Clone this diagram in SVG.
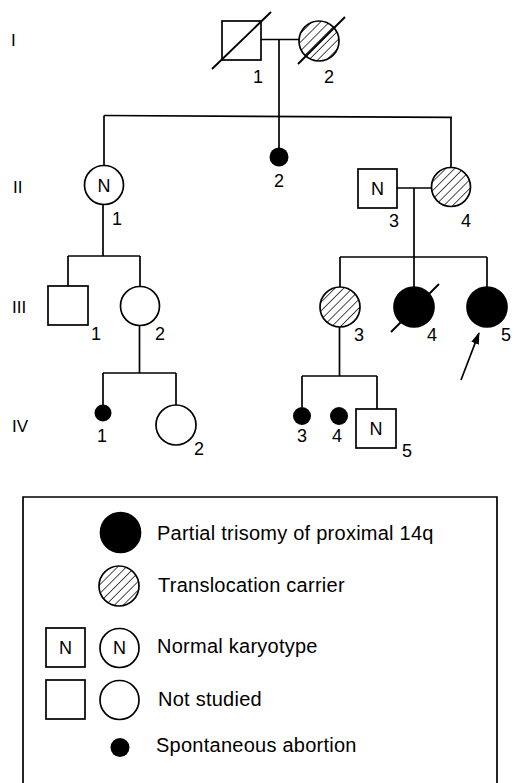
<svg xmlns="http://www.w3.org/2000/svg" width="520" height="783" viewBox="0 0 520 783">
<defs>
<pattern id="hatch" patternUnits="userSpaceOnUse" width="6.2" height="6.2" patternTransform="rotate(45)">
<rect width="6.2" height="6.2" fill="#fff"/>
<line x1="0" y1="0" x2="0" y2="6.2" stroke="#000" stroke-width="1.4"/>
</pattern>
<marker id="arrow" viewBox="0 0 12 8" refX="11" refY="4" markerWidth="12" markerHeight="8" markerUnits="userSpaceOnUse" orient="auto">
<path d="M0,0 L12,4 L0,8 Z" fill="#000"/>
</marker>
</defs>
<style>
.ln{stroke:#000;stroke-width:1.7;fill:none}
.sym{stroke:#000;stroke-width:1.7;fill:#fff}
.aff{stroke:#000;stroke-width:1.7;fill:#000}
.car{stroke:#000;stroke-width:1.7;fill:url(#hatch)}
.ab{fill:#000;stroke:none}
.sl{stroke:#000;stroke-width:1.9}
text{font-family:"Liberation Sans",Arial,sans-serif;fill:#000}
.num{font-size:18px;text-anchor:middle}
.gen{font-size:17px}
.n{font-size:18px;text-anchor:middle}
.lg{font-size:20px;letter-spacing:0.25px}
</style>
<rect width="520" height="783" fill="#fff"/>

<g id="generations">
<text class="gen" x="11" y="46">I</text>
<text class="gen" x="13" y="193">II</text>
<text class="gen" x="12" y="313">III</text>
<text class="gen" x="12" y="432">IV</text>
</g>

<g id="connectors">
<line class="ln" x1="261" y1="39.5" x2="299" y2="39.5"/>
<line class="ln" x1="279" y1="39.5" x2="279" y2="116.5"/>
<line class="ln" x1="104" y1="115.5" x2="452" y2="117.3"/>
<line class="ln" x1="104" y1="115.5" x2="104" y2="165.5"/>
<line class="ln" x1="279" y1="116.5" x2="279" y2="149"/>
<line class="ln" x1="451" y1="117.3" x2="451" y2="167.5"/>
<line class="ln" x1="397" y1="188" x2="431.5" y2="188"/>
<line class="ln" x1="414" y1="188" x2="414" y2="257"/>
<line class="ln" x1="103" y1="204.5" x2="103" y2="256"/>
<line class="ln" x1="68" y1="256" x2="140" y2="256"/>
<line class="ln" x1="68" y1="256" x2="68" y2="286"/>
<line class="ln" x1="140" y1="256" x2="140" y2="286.5"/>
<line class="ln" x1="139.5" y1="325.5" x2="139.5" y2="373"/>
<line class="ln" x1="103" y1="373" x2="176" y2="373"/>
<line class="ln" x1="103" y1="373" x2="103" y2="405"/>
<line class="ln" x1="176" y1="373" x2="176" y2="405"/>
<line class="ln" x1="340" y1="257" x2="487" y2="257"/>
<line class="ln" x1="340" y1="257" x2="340" y2="287"/>
<line class="ln" x1="414" y1="257" x2="414" y2="287"/>
<line class="ln" x1="487" y1="257" x2="487" y2="287"/>
<line class="ln" x1="339.5" y1="327" x2="339.5" y2="376"/>
<line class="ln" x1="302" y1="376" x2="377" y2="376"/>
<line class="ln" x1="302" y1="376" x2="302" y2="407"/>
<line class="ln" x1="377" y1="376" x2="377" y2="409"/>
<line class="ln" x1="461" y1="380" x2="479" y2="333" marker-end="url(#arrow)"/>
</g>

<g id="I-1">
<rect class="sym" x="222" y="21" width="39" height="39"/>
<line class="sl" x1="212" y1="69" x2="271" y2="12"/>
<text class="num" x="258" y="83">1</text>
</g>
<g id="I-2">
<circle class="car" cx="319" cy="41" r="20"/>
<line class="sl" x1="298" y1="64" x2="345" y2="17"/>
<text class="num" x="329" y="83">2</text>
</g>

<g id="II-1">
<circle class="sym" cx="104" cy="185" r="19.5"/>
<text class="n" x="104" y="191.5">N</text>
<text class="num" x="117" y="225">1</text>
</g>
<g id="II-2">
<circle class="ab" cx="279" cy="157" r="9.5"/>
<text class="num" x="279" y="187">2</text>
</g>
<g id="II-3">
<rect class="sym" x="358" y="169" width="39" height="39"/>
<text class="n" x="377.5" y="195">N</text>
<text class="num" x="394" y="227">3</text>
</g>
<g id="II-4">
<circle class="car" cx="451" cy="187" r="19.5"/>
<text class="num" x="466" y="227">4</text>
</g>

<g id="III-1">
<rect class="sym" x="48" y="286" width="40" height="39"/>
<text class="num" x="96" y="340">1</text>
</g>
<g id="III-2">
<circle class="sym" cx="140" cy="306" r="19.5"/>
<text class="num" x="160" y="340">2</text>
</g>
<g id="III-3">
<circle class="car" cx="340" cy="307" r="20"/>
<text class="num" x="359" y="341">3</text>
</g>
<g id="III-4">
<line class="sl" x1="391" y1="332" x2="439" y2="284"/>
<circle class="aff" cx="414" cy="307" r="20"/>
<text class="num" x="432" y="341">4</text>
</g>
<g id="III-5">
<circle class="aff" cx="487" cy="307" r="20"/>
<text class="num" x="506" y="341">5</text>
</g>

<g id="IV-1">
<circle class="ab" cx="103" cy="413" r="8.5"/>
<text class="num" x="102" y="442">1</text>
</g>
<g id="IV-2">
<circle class="sym" cx="176" cy="425" r="20"/>
<text class="num" x="199" y="455">2</text>
</g>
<g id="IV-3">
<circle class="ab" cx="302" cy="416" r="9"/>
<text class="num" x="302" y="442">3</text>
</g>
<g id="IV-4">
<circle class="ab" cx="339" cy="416" r="9"/>
<text class="num" x="337" y="442">4</text>
</g>
<g id="IV-5">
<rect class="sym" x="356" y="409" width="40" height="39"/>
<text class="n" x="376" y="435">N</text>
<text class="num" x="407" y="457">5</text>
</g>

<g id="legend">
<path class="ln" d="M23,790 V497 H497 V790"/>
<circle class="aff" cx="120.5" cy="532.5" r="20"/>
<text class="lg" x="157" y="540">Partial trisomy of proximal 14q</text>
<circle class="car" cx="119" cy="586" r="20"/>
<text class="lg" x="158" y="592">Translocation carrier</text>
<rect class="sym" x="46" y="628" width="39" height="39"/>
<text class="n" x="65.5" y="654">N</text>
<circle class="sym" cx="119.5" cy="648" r="19.5"/>
<text class="n" x="119.5" y="654">N</text>
<text class="lg" x="157" y="653">Normal karyotype</text>
<rect class="sym" x="46" y="680" width="39" height="39"/>
<circle class="sym" cx="119.5" cy="700" r="19.5"/>
<text class="lg" x="158" y="706">Not studied</text>
<circle class="ab" cx="120" cy="747.5" r="9.5"/>
<text class="lg" x="156" y="752">Spontaneous abortion</text>
</g>
</svg>
